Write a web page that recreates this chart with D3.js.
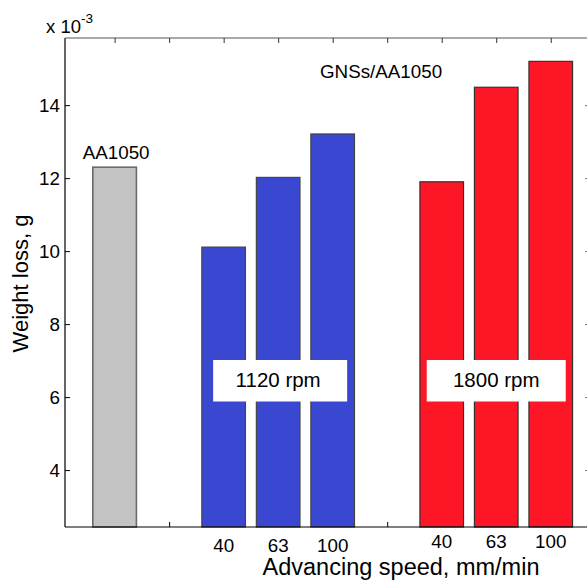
<!DOCTYPE html>
<html><head><meta charset="utf-8">
<script src="https://cdn.jsdelivr.net/npm/d3@7"></script>
<style>
html,body{margin:0;padding:0;background:#fff;}
svg{display:block;font-family:"Liberation Sans",Arial,sans-serif;}
</style></head>
<body>
<svg id="c" width="587" height="581"></svg>
<script>
// Data
const positions = [1, 3, 4, 5, 7, 8, 9];
const values = [12.30, 10.11, 12.02, 13.21, 11.90, 14.49, 15.20]; // x 10^-3 g
const groups = ["base", "1120", "1120", "1120", "1800", "1800", "1800"];
const tickLabels = ["", "40", "63", "100", "40", "63", "100"];
const yTicks = [4, 6, 8, 10, 12, 14];
const topTicks = [1, 2, 3, 4, 5, 6, 7, 8, 9];
const bottomTicks = [2, 6];
const groupLabels = ["1120 rpm", "1800 rpm"];
const groupLabelPos = [4, 8];

const colors = {base: "#c3c3c3", "1120": "#3a47d1", "1800": "#fd1625"};
const strokes = {base: "#6a6a6a", "1120": "#444", "1800": "#333"};

const svg = d3.select("#c");
const L = 65, R = 590, T = 38, B = 527;
const x = d3.scaleLinear().domain([0.09, 9.72]).range([L, R]);
const y = d3.scaleLinear().domain([2.44, 15.84]).range([B, T]);
const bw = x(0.8) - x(0);

// bars
svg.selectAll("rect.bar").data(positions).join("rect")
  .attr("class", "bar")
  .attr("x", (d) => x(d) - bw / 2)
  .attr("width", bw)
  .attr("y", (d, i) => y(values[i]))
  .attr("height", (d, i) => B - y(values[i]))
  .attr("fill", (d, i) => colors[groups[i]])
  .attr("stroke", (d, i) => strokes[groups[i]])
  .attr("stroke-width", (d, i) => groups[i] === "base" ? 1.6 : 1.2);

// axes lines
svg.append("line").attr("x1", L).attr("x2", L).attr("y1", T).attr("y2", B).attr("stroke", "#000").attr("stroke-width", 1.2);
svg.append("line").attr("x1", L).attr("x2", R).attr("y1", B).attr("y2", B).attr("stroke", "#000").attr("stroke-width", 1.2);
svg.append("line").attr("x1", L).attr("x2", R).attr("y1", T).attr("y2", T).attr("stroke", "#555").attr("stroke-width", 1.2);
svg.append("line").attr("x1", R).attr("x2", R).attr("y1", T).attr("y2", B).attr("stroke", "#555").attr("stroke-width", 1.2);

// left ticks
const yAxis = svg.append("g").attr("transform", `translate(${L},0)`)
  .call(d3.axisRight(y).tickValues(yTicks).tickSize(5).tickFormat(""));
yAxis.select(".domain").remove();
yAxis.selectAll("line").attr("stroke", "#000");
// right ticks
const yAxisR = svg.append("g").attr("transform", `translate(${R},0)`)
  .call(d3.axisLeft(y).tickValues(yTicks).tickSize(5).tickFormat(""));
yAxisR.select(".domain").remove();
yAxisR.selectAll("line").attr("stroke", "#777");
// left tick labels
svg.selectAll("text.yl").data(yTicks).join("text").attr("class", "yl")
  .attr("x", L - 5).attr("y", (d) => y(d)).attr("dy", "0.36em")
  .attr("text-anchor", "end").attr("font-size", 18.8).text((d) => d);

// top ticks
const xTop = svg.append("g").attr("transform", `translate(0,${T})`)
  .call(d3.axisBottom(x).tickValues(topTicks).tickSize(5).tickFormat(""));
xTop.select(".domain").remove();
xTop.selectAll("line").attr("stroke", "#333");
// bottom ticks
const xBot = svg.append("g").attr("transform", `translate(0,${B})`)
  .call(d3.axisTop(x).tickValues(bottomTicks).tickSize(5).tickFormat(""));
xBot.select(".domain").remove();
xBot.selectAll("line").attr("stroke", "#000");

// bottom tick labels
svg.selectAll("text.xl").data(positions).join("text").attr("class", "xl")
  .attr("x", (d) => x(d)).attr("y", (d, i) => groups[i] === "1800" ? 548 : 552)
  .attr("text-anchor", "middle").attr("font-size", 18.8).text((d, i) => tickLabels[i]);

// group label boxes
groupLabels.forEach((t, i) => {
  const cx = x(groupLabelPos[i]);
  const w = i === 0 ? 134 : 139;
  svg.append("rect").attr("x", cx - w / 2 + (i === 0 ? 2 : 0)).attr("y", 360).attr("width", w).attr("height", 41.5).attr("fill", "#fff");
  svg.append("text").attr("x", cx).attr("y", 387).attr("text-anchor", "middle")
    .attr("font-size", 20.5).text(t);
});

// annotations
svg.append("text").attr("x", x(1) + 1.5).attr("y", 159).attr("text-anchor", "middle").attr("font-size", 18.8).text("AA1050");
svg.append("text").attr("x", 320).attr("y", 78).attr("font-size", 18.8).text("GNSs/AA1050");

// exponent
const ex = svg.append("text").attr("x", 46).attr("y", 33).attr("font-size", 18.5);
ex.append("tspan").text("x 10");
ex.append("tspan").attr("dy", -10).attr("font-size", 13.5).text("-3");

// axis titles
svg.append("text").attr("x", 401).attr("y", 575).attr("text-anchor", "middle").attr("font-size", 23.5).text("Advancing speed, mm/min");
svg.append("text").attr("transform", "translate(28,283.5) rotate(-90)").attr("text-anchor", "middle").attr("font-size", 22).text("Weight loss, g");
</script>
</body></html>
